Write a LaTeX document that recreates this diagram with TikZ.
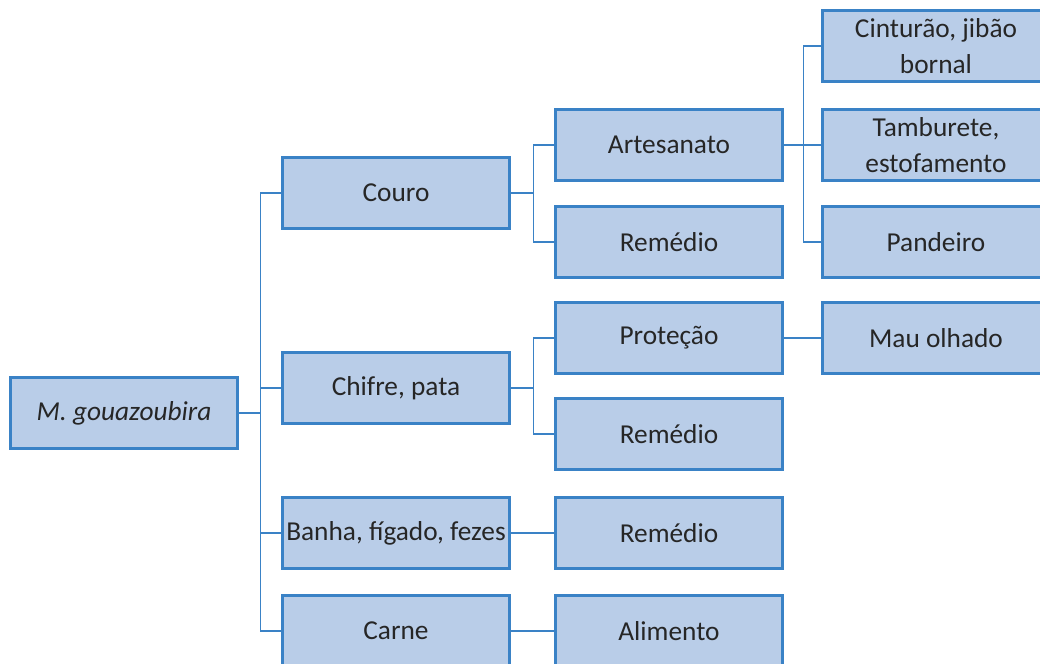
\documentclass[tikz,border=0pt]{standalone}
\usepackage{fontspec}
\setmainfont{Carlito}
\definecolor{boxfill}{RGB}{185,205,232}
\definecolor{boxline}{RGB}{58,130,198}
\tikzset{
  usebox/.style={draw=boxline, fill=boxfill, line width=2pt, minimum width=170pt, minimum height=53pt,
    align=center, inner xsep=1pt, inner ysep=2pt, font=\fontsize{20.5}{26.5}\selectfont, text=black!85},
  link/.style={draw=boxline, line width=1.1pt}
}
\begin{document}
\begin{tikzpicture}[x=0.75pt,y=0.75pt,yscale=-1,xscale=1]
\useasboundingbox (0,0) rectangle (1040,664);
\clip (0,0) rectangle (1040,664);

% Root
\node [usebox] (root) at (124,413) {\textit{M. gouazoubira}};

% Parts
\node [usebox] (couro) at (396,193) {Couro};
\node [usebox] (chifre) at (396,388) {Chifre, pata};
\node [usebox] (banha) at (396,533) {Banha, fígado, fezes};
\node [usebox] (carne) at (396,631) {Carne};

% Uses
\node [usebox] (artesanato) at (669,145) {Artesanato};
\node [usebox] (remedioA) at (669,242) {Remédio};
\node [usebox] (protecao) at (669,338) {Proteção};
\node [usebox] (remedioB) at (669,434) {Remédio};
\node [usebox] (remedioC) at (669,533) {Remédio};
\node [usebox] (alimento) at (669,631) {Alimento};

% Products
\node [usebox] (cinturao) at (936,46) {Cinturão, jibão\\bornal};
\node [usebox] (tamburete) at (936,145) {Tamburete,\\estofamento};
\node [usebox] (pandeiro) at (936,242) {Pandeiro};
\node [usebox] (olhado) at (936,338) {Mau olhado};

% Connectors
\draw [link] (root.east) -- ++(22,0) |- (couro.west);
\draw [link] (root.east) -- ++(22,0) |- (chifre.west);
\draw [link] (root.east) -- ++(22,0) |- (banha.west);
\draw [link] (root.east) -- ++(22,0) |- (carne.west);

\draw [link] (couro.east) -- ++(23,0) |- (artesanato.west);
\draw [link] (couro.east) -- ++(23,0) |- (remedioA.west);
\draw [link] (chifre.east) -- ++(23,0) |- (protecao.west);
\draw [link] (chifre.east) -- ++(23,0) |- (remedioB.west);
\draw [link] (banha.east) -- (remedioC.west);
\draw [link] (carne.east) -- (alimento.west);

\draw [link] (artesanato.east) -- ++(20,0) |- (cinturao.west);
\draw [link] (artesanato.east) -- ++(20,0) |- (tamburete.west);
\draw [link] (artesanato.east) -- ++(20,0) |- (pandeiro.west);
\draw [link] (protecao.east) -- (olhado.west);

\end{tikzpicture}
\end{document}
